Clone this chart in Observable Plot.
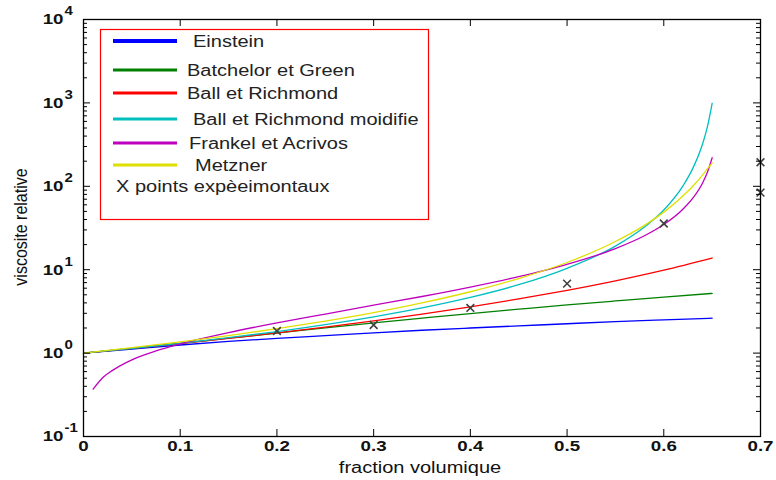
<!DOCTYPE html>
<html><head><meta charset="utf-8">
<script src="https://cdn.jsdelivr.net/npm/d3@7"></script>
<script src="https://cdn.jsdelivr.net/npm/@observablehq/plot@0.6"></script>
<style>
body{margin:0;background:#fff;}
#chart svg{display:block;}
</style>
</head><body><div id="chart"></div>
<script>
// ---- data ----
const phiGrid = [0,0.05,0.1,0.15,0.2,0.25,0.3,0.35,0.4,0.45,0.5,0.55,0.6,0.65];
const einstein = [1.00,1.12,1.25,1.38,1.50,1.62,1.75,1.88,2.00,2.12,2.25,2.38,2.50,2.62];
const batchelor = [1.00,1.14,1.31,1.51,1.74,2.01,2.30,2.62,2.98,3.36,3.78,4.22,4.70,5.20];
const ballRichmond = [1.00,1.14,1.30,1.50,1.75,2.05,2.44,2.94,3.59,4.46,5.66,7.36,9.88,13.8];
const phiSteep = [0,0.05,0.1,0.15,0.2,0.25,0.3,0.35,0.4,0.45,0.5,0.55,0.58,0.6,0.62,0.63,0.64,0.645,0.65];
const ballModifie = [1.00,1.14,1.31,1.53,1.81,2.19,2.72,3.48,4.65,6.61,10.4,19.2,32.5,52,102,164,319,511,990];
const metzner = [1.00,1.16,1.36,1.62,1.96,2.42,3.06,4.00,5.44,7.84,12.2,21.8,34,49,77,100,136,162,190];
const phiFrankel = [0.01,0.02,0.03,0.05,0.075,0.1,0.15,0.2,0.25,0.3,0.35,0.4,0.45,0.5,0.55,0.58,0.6,0.62,0.63,0.64,0.645,0.65];
const frankel = [0.37,0.51,0.62,0.83,1.06,1.29,1.76,2.30,2.94,3.75,4.77,6.19,8.27,11.6,17.9,25.5,34.8,53.5,72,109,146,220];
const phiExp = [0.2,0.3,0.4,0.5,0.6,0.7,0.7];
const viscExp = [1.84,2.17,3.48,6.8,35.8,194,84];

const seriesNames = ["Einstein","Batchelor et Green","Ball et Richmond","Ball et Richmond moidifie","Frankel et Acrivos","Metzner"];
const seriesColors = ["#0000ff","#008000","#ff0000","#00bfbf","#bf00bf","#e0e000"];
const expLabel = "X points expèeimontaux";

const xTicks = [0,0.1,0.2,0.3,0.4,0.5,0.6,0.7];
const xTickLabels = ["0","0.1","0.2","0.3","0.4","0.5","0.6","0.7"];
const yDecades = [0.1,1,10,100,1000,10000];
const yExponents = ["-1","0","1","2","3","4"];
const xLabel = "fraction volumique";
const yLabel = "viscosite relative";

// ---- build table ----
const seriesPhi = [phiGrid, phiGrid, phiGrid, phiSteep, phiFrankel, phiSteep];
const seriesVals = [einstein, batchelor, ballRichmond, ballModifie, frankel, metzner];
const rows = seriesNames.flatMap((name, s) => seriesPhi[s].map((p, i) => ({name, phi: p, v: seriesVals[s][i]})));
const expRows = phiExp.map((p, i) => ({phi: p, v: viscExp[i]}));
const yMinor = [];
for (const d of yDecades.slice(0, -1)) for (let k = 2; k <= 9; k++) yMinor.push(+(k * d).toPrecision(3));

const W = 776, H = 480, mL = 83, mR = 16, mT = 19, mB = 44;
const pw = W - mL - mR, ph = H - mT - mB;

const chart = Plot.plot({
  width: W, height: H,
  marginLeft: mL, marginRight: mR, marginTop: mT, marginBottom: mB,
  style: {fontFamily: "'Liberation Sans', Arial, sans-serif", background: "#fff", color: "#111"},
  x: {domain: [0, 0.7], axis: null},
  y: {type: "log", domain: [0.1, 10000], axis: null},
  color: {domain: seriesNames, range: seriesColors},
  marks: [
    Plot.line(rows, {x: "phi", y: "v", z: "name", stroke: "name", strokeWidth: 1.3, curve: "monotone-x"}),
    Plot.dot(expRows, {x: "phi", y: "v", symbol: "times", r: 3.6, stroke: "#404040", strokeWidth: 1.6}),
    Plot.frame({stroke: "#000", strokeWidth: 1.3}),
    // inward ticks
    Plot.ruleX(xTicks, {x: d => d, insetTop: ph - 7, stroke: "#000"}),
    Plot.ruleX(xTicks, {x: d => d, insetBottom: ph - 7, stroke: "#000"}),
    Plot.ruleY(yDecades, {y: d => d, insetRight: pw - 7, stroke: "#000"}),
    Plot.ruleY(yDecades, {y: d => d, insetLeft: pw - 7, stroke: "#000"}),
    Plot.ruleY(yMinor, {y: d => d, insetRight: pw - 4, stroke: "#000"}),
    Plot.ruleY(yMinor, {y: d => d, insetLeft: pw - 4, stroke: "#000"}),
    // tick labels
    Plot.text(xTicks, {x: d => d, text: (d, i) => xTickLabels[i], frameAnchor: "bottom", dy: 14, fontSize: 15, fontWeight: "bold", fill: "#111"}),
    Plot.text(yDecades, {y: d => d, text: () => "10", frameAnchor: "left", textAnchor: "end", dx: -20, dy: 0, fontSize: 15, fontWeight: "bold", fill: "#111"}),
    Plot.text(yDecades, {y: d => d, text: (d, i) => yExponents[i], frameAnchor: "left", textAnchor: "start", dx: -19, dy: -8, fontSize: 12, fontWeight: "bold", fill: "#111"})
  ]
});

// stretch horizontal text like the reference
chart.querySelectorAll("text").forEach(t => {
  const tr = t.getAttribute("transform");
  if (tr) t.setAttribute("transform", tr + " scale(1.25,1)");
  else {
    const x = +(t.getAttribute("x") || 0), y = +(t.getAttribute("y") || 0);
    t.removeAttribute("x"); t.removeAttribute("y");
    t.setAttribute("transform", `translate(${x},${y}) scale(1.25,1)`);
  }
});

const svg = d3.select(chart);
// axis titles
svg.append("text").attr("transform", "translate(420,473) scale(1.25,1)").attr("text-anchor", "middle")
  .attr("font-size", 16).attr("fill", "#111").text(xLabel);
svg.append("text").attr("transform", "translate(27,227) rotate(-90) scale(1,1.2)").attr("text-anchor", "middle")
  .attr("font-size", 16).attr("fill", "#111").text(yLabel);

// legend
const lg = svg.append("g").attr("text-anchor", "start");
lg.append("rect").attr("x", 100.5).attr("y", 29.5).attr("width", 328).attr("height", 190)
  .attr("fill", "#fff").attr("stroke", "#ff0000").attr("stroke-width", 1.2);
const ly = [41, 70, 93, 119, 143, 165];
const tx = [193, 187, 187, 193, 189, 195];
seriesNames.forEach((name, i) => {
  lg.append("line").attr("x1", 113).attr("x2", 177).attr("y1", ly[i]).attr("y2", ly[i])
    .attr("stroke", seriesColors[i]).attr("stroke-width", i === 0 ? 4 : 3);
  lg.append("text").attr("text-anchor", "start").attr("transform", `translate(${tx[i]},${ly[i] + 5.5}) scale(1.25,1)`)
    .attr("font-size", 16).attr("fill", "#222").text(name);
});
lg.append("text").attr("text-anchor", "start").attr("transform", "translate(116,192) scale(1.25,1)")
  .attr("font-size", 16).attr("fill", "#222").text(expLabel);

document.getElementById("chart").appendChild(chart);
</script>
</body></html>
